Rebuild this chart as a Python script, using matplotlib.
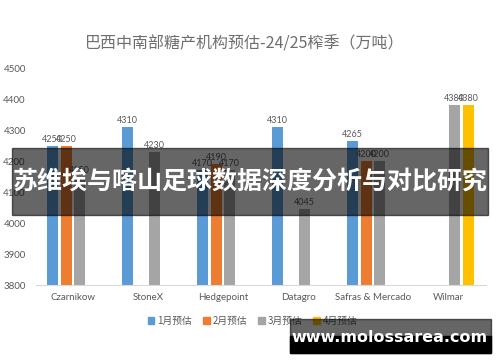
import matplotlib
matplotlib.use("Agg")
import matplotlib.pyplot as plt
from matplotlib.patches import Rectangle, Patch
import numpy as np

plt.rcParams['font.family'] = ['Lato', 'Noto Sans CJK SC', 'DejaVu Sans']

categories = ['Czarnikow', 'StoneX', 'Hedgepoint', 'Datagro', 'Safras & Mercado', 'Wilmar']
series_names = ['1月预估', '2月预估', '3月预估', '4月预估']
jan = [4250, 4310, 4170, 4310, 4265, None]
feb = [4250, None, 4190, None, 4200, None]
mar = [4150, 4230, 4170, 4045, 4200, 4380]
apr = [None, None, None, None, None, 4380]
colors = ['#5B9BD5', '#ED7D31', '#A5A5A5', '#FFC000']

title = '巴西中南部糖产机构预估-24/25榨季（万吨）'
banner = '苏维埃与喀山足球数据深度分析与对比研究'
watermark = 'www.molossarea.com'

fig = plt.figure(figsize=(5, 3.62), dpi=100)
ax = fig.add_axes([0.071, 0.2127, 0.9, 0.5993])

x = np.arange(len(categories))
pitch = 0.183
width = 0.147
for i, vals in enumerate([jan, feb, mar, apr]):
    off = (i - 1.5) * pitch
    for xi, v in zip(x, vals):
        if v is None:
            continue
        ax.bar(xi + off, v - 3800, width, bottom=3800, color=colors[i], zorder=2)
        ax.text(xi + off, v + 6, str(v), ha='center', va='bottom',
                fontsize=6.5, color='#595959')

ax.set_xlim(-0.5, 5.5)
ax.set_ylim(3800, 4500)
ax.set_yticks(range(3800, 4501, 100))
ax.set_xticks(x)
ax.set_xticklabels(categories)
ax.tick_params(length=0, labelsize=7, colors='#595959')
ax.tick_params(axis='y', pad=7)
ax.tick_params(axis='x', pad=6)
for s in ['top', 'right', 'left']:
    ax.spines[s].set_visible(False)
ax.spines['bottom'].set_color('#D9D9D9')

fig.text(0.49, 0.878, title, ha='center', va='center', fontsize=11.5,
         color='#6E6E6E', family=['Noto Sans CJK SC', 'DejaVu Sans'])

handles = [Patch(color=c) for c in colors]
fig.legend(handles, series_names, loc='center', bbox_to_anchor=(0.505, 0.113),
           ncol=4, frameon=False, handlelength=0.7, handleheight=0.7,
           columnspacing=1.1, handletextpad=0.3, labelcolor='#595959',
           prop={'family': ['Noto Sans CJK SC', 'DejaVu Sans'], 'size': 7})

# overlay banner
fig.patches.append(Rectangle((0.024, 0.406), 0.952, 0.185, transform=fig.transFigure,
                             color='black', alpha=0.6, zorder=10))
fig.text(0.5, 0.497, banner, ha='center', va='center', fontsize=18, color='white',
         fontweight='bold', family=['Noto Sans CJK SC', 'DejaVu Sans'], zorder=11)

# watermark
fig.patches.append(Rectangle((0.58, 0.0249), 0.402, 0.094, transform=fig.transFigure,
                             color='black', alpha=0.6, zorder=10))
fig.patches.append(Rectangle((0.58, 0.0249), 0.402, 0.047, transform=fig.transFigure,
                             color='black', zorder=10))
fig.text(0.78, 0.069, watermark, ha='center', va='center', fontsize=11.5,
         color='white', fontweight='bold', family='DejaVu Sans', zorder=11)

fig.savefig('out.png', dpi=100)
